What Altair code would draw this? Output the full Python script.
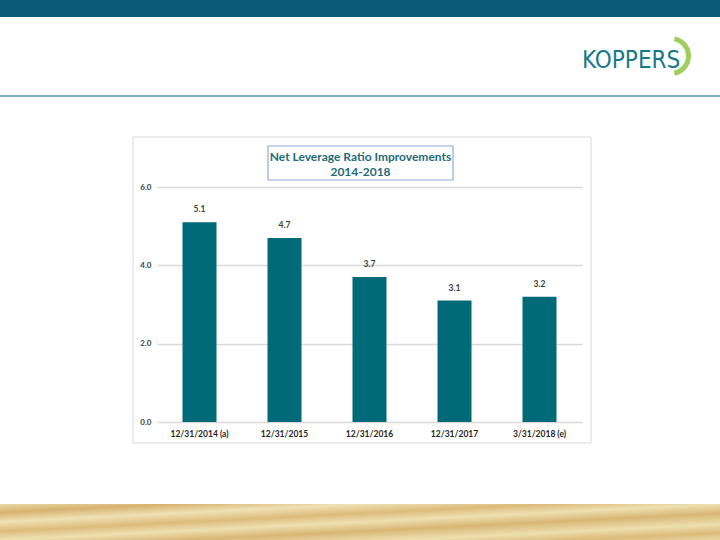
import altair as alt
import pandas as pd

categories = ["12/31/2014 (a)", "12/31/2015", "12/31/2016", "12/31/2017", "3/31/2018 (e)"]
values = [5.1, 4.7, 3.7, 3.1, 3.2]
y_ticks = [0, 2, 4, 6]
title_lines = ["Net Leverage Ratio Improvements", "2014-2018"]

df = pd.DataFrame({"period": categories, "ratio": values})

FONT = "Lato"
BAR = "#006A79"

x_enc = alt.X("period:N", sort=None,
              scale=alt.Scale(paddingInner=0.6, paddingOuter=0.3),
              axis=alt.Axis(title=None, labelAngle=0, domain=False, ticks=False,
                            labelPadding=7, labelFontSize=8.5, labelColor="#262626",
                            labelFont=FONT, labelFontWeight="bold"))
y_enc = alt.Y("ratio:Q", scale=alt.Scale(domain=[0, 6], nice=False),
              axis=alt.Axis(title=None, values=y_ticks, format=".1f", grid=True,
                            gridColor="#D9D9D9", gridWidth=1.5, domain=False, ticks=False,
                            labelPadding=6, labelFontSize=8, labelColor="#404040",
                            labelFont=FONT, labelFontWeight="bold"))

base_d = alt.Chart(pd.DataFrame({"d": [0]}))

header = base_d.mark_rect(color="#0B5A78").encode(
    x=alt.value(-157), x2=alt.value(563), y=alt.value(-187), y2=alt.value(-170))
blue_line = base_d.mark_rect(color="#7FAFBE").encode(
    x=alt.value(-157), x2=alt.value(563), y=alt.value(-92), y2=alt.value(-90))
wood = base_d.mark_rect(color=alt.Gradient(
    gradient="linear", x1=0, y1=0, x2=1, y2=1,
    stops=[alt.GradientStop(color="#E9DBA6", offset=0),
           alt.GradientStop(color="#D8B271", offset=0.12),
           alt.GradientStop(color="#EFE2B4", offset=0.25),
           alt.GradientStop(color="#DDBB7C", offset=0.38),
           alt.GradientStop(color="#EEE0B0", offset=0.5),
           alt.GradientStop(color="#D9B676", offset=0.63),
           alt.GradientStop(color="#EDDFAE", offset=0.78),
           alt.GradientStop(color="#DCBA7A", offset=0.9),
           alt.GradientStop(color="#E8D7A2", offset=1)])).encode(
    x=alt.value(-157), x2=alt.value(563), y=alt.value(317), y2=alt.value(353))
frame = base_d.mark_rect(fill="transparent", stroke="#D9D9D9", strokeWidth=1).encode(
    x=alt.value(-24), x2=alt.value(434), y=alt.value(-50), y2=alt.value(256))
title_box = base_d.mark_rect(fill="white", stroke="#8FAADC", strokeWidth=1.2).encode(
    x=alt.value(111), x2=alt.value(296), y=alt.value(-41), y2=alt.value(-7))
title_df = pd.DataFrame({"t": title_lines, "yy": [-30, -15]})
title_txt = alt.Chart(title_df).mark_text(font=FONT, fontSize=12, fontWeight="bold",
                                          color="#1F6B78", baseline="middle").encode(
    x=alt.value(203.5), y=alt.Y("yy:Q", scale=None), text="t:N")

logo_arc = base_d.mark_arc(color="#8DC63F", opacity=0.85).encode(
    x=alt.value(514), y=alt.value(-131),
    theta=alt.value(0.2), theta2=alt.value(2.95),
    radius=alt.value(20), radius2=alt.value(15))
logo_txt = base_d.mark_text(font="DejaVu Sans Condensed, Liberation Sans", fontSize=24,
                            color="#167A8B", align="left", baseline="alphabetic").encode(
    x=alt.value(425), y=alt.value(-119), text=alt.value("KOPPERS"))

bars = alt.Chart(df).mark_bar(color=BAR).encode(x=x_enc, y=y_enc)
labels = alt.Chart(df).mark_text(dy=-13, font=FONT, fontSize=8.5, fontWeight="bold",
                                 color="#404040").encode(
    x=alt.X("period:N", sort=None), y="ratio:Q", text=alt.Text("ratio:Q", format=".1f"))

chart = alt.layer(header, blue_line, wood, frame, title_box, title_txt,
                  logo_arc, logo_txt, bars, labels).properties(
    width=425, height=235,
    autosize=alt.AutoSizeParams(type="none"),
    padding={"left": 157, "top": 187, "right": 138, "bottom": 118},
).configure(background="white").configure_view(stroke=None)

chart.save("out.html", embed_options={"renderer": "svg", "actions": False})
